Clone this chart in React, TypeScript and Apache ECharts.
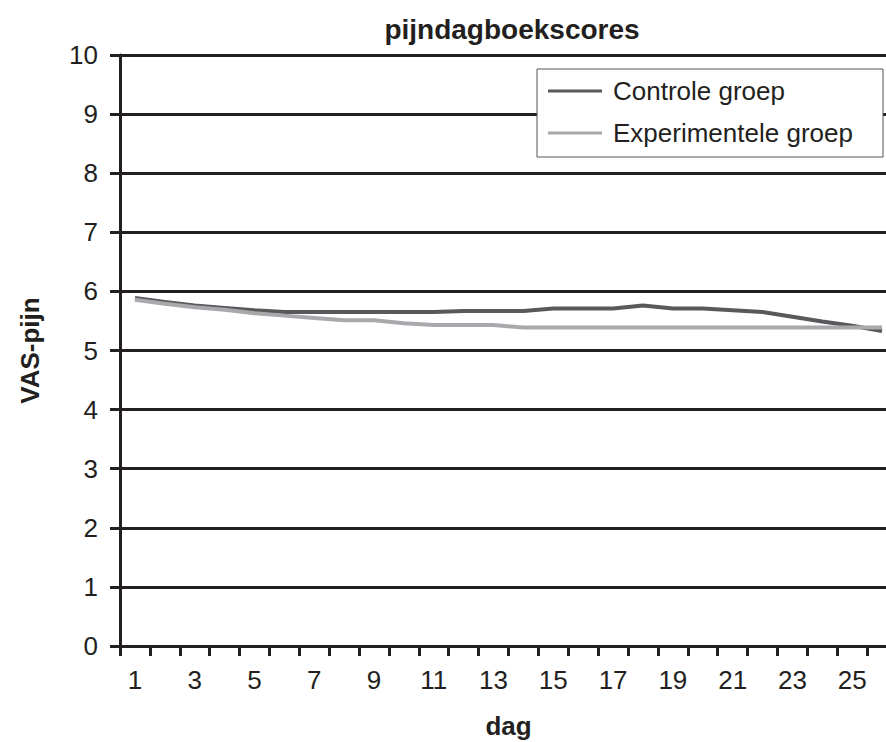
import React, { useEffect, useRef } from "react";
import * as echarts from "echarts";

const days = ["1","2","3","4","5","6","7","8","9","10","11","12","13","14","15","16","17","18","19","20","21","22","23","24","25","26"];
const controle = [5.89,5.82,5.76,5.72,5.68,5.65,5.65,5.65,5.65,5.65,5.65,5.67,5.67,5.67,5.71,5.71,5.71,5.76,5.71,5.71,5.68,5.65,5.57,5.49,5.42,5.33];
const experimenteel = [5.86,5.79,5.73,5.69,5.63,5.59,5.55,5.51,5.51,5.46,5.43,5.43,5.43,5.39,5.39,5.39,5.39,5.39,5.39,5.39,5.39,5.39,5.39,5.39,5.39,5.39];
const seriesNames = ["Controle groep", "Experimentele groep"];
const titleText = "pijndagboekscores";
const xName = "dag";
const yName = "VAS-pijn";

const INK = "#231f20";
const FONT = "'Liberation Sans', Arial, Helvetica, sans-serif";

export default function App() {
  const ref = useRef<HTMLDivElement>(null);
  useEffect(() => {
    if (!ref.current) return;
    const chart = echarts.init(ref.current, null, { renderer: "svg" });
    chart.setOption({
      animation: false,
      backgroundColor: "#ffffff",
      textStyle: { fontFamily: FONT, color: INK },
      title: {
        text: titleText,
        left: 507,
        top: 10,
        textAlign: "center",
        textStyle: { fontFamily: FONT, fontSize: 28, fontWeight: "bold", color: INK },
      },
      grid: {
        left: 120,
        top: 55,
        height: 591,
        width: 777,
        containLabel: false,
        outerBoundsMode: "none",
      },
      legend: {
        orient: "vertical",
        left: 537,
        top: 69,
        padding: [9, 0, 0, 11],
        itemWidth: 54,
        itemHeight: 24,
        itemGap: 16,
        icon: "path://M0,0L54,0L54,3L0,3Z",
        z: 5,
        lineStyle: { width: 3 },
        textStyle: { fontFamily: FONT, fontSize: 26, color: INK, padding: [0, 0, 0, 6] },
        data: seriesNames,
      },
      graphic: [
        {
          type: "rect",
          z: 3,
          shape: { x: 537, y: 69, width: 346, height: 88 },
          style: { fill: "#ffffff", stroke: "#555555", lineWidth: 1 },
        },
      ],
      xAxis: {
        type: "category",
        data: days,
        boundaryGap: true,
        name: xName,
        nameLocation: "middle",
        nameGap: 67,
        nameTextStyle: { fontFamily: FONT, fontSize: 26, fontWeight: "bold", color: INK },
        axisLine: { show: true, lineStyle: { color: INK, width: 3 } },
        axisTick: { show: true, interval: 0, length: 10, lineStyle: { color: INK, width: 3 } },
        axisLabel: { interval: 1, margin: 21, fontFamily: FONT, fontSize: 26, color: INK },
        splitLine: { show: false },
      },
      yAxis: {
        type: "value",
        min: 0,
        max: 10,
        interval: 1,
        name: yName,
        nameLocation: "middle",
        nameGap: 77,
        nameTextStyle: { fontFamily: FONT, fontSize: 26, fontWeight: "bold", color: INK },
        axisLine: { show: true, lineStyle: { color: INK, width: 3 } },
        axisTick: { show: true, length: 10, lineStyle: { color: INK, width: 3 } },
        axisLabel: { margin: 22, fontFamily: FONT, fontSize: 26, color: INK },
        splitLine: { show: true, lineStyle: { color: INK, width: 3 } },
      },
      series: [
        {
          name: seriesNames[0],
          type: "line",
          data: controle,
          symbol: "none",
          z: 2,
          lineStyle: { color: "#58595b", width: 4 },
          itemStyle: { color: "#58595b" },
        },
        {
          name: seriesNames[1],
          type: "line",
          data: experimenteel,
          symbol: "none",
          z: 2,
          lineStyle: { color: "#a7a9ac", width: 4 },
          itemStyle: { color: "#a7a9ac" },
        },
      ],
    });
    return () => chart.dispose();
  }, []);
  return (
    <div
      ref={ref}
      style={{ position: "absolute", left: 0, top: 0, width: 886, height: 742 }}
    />
  );
}
